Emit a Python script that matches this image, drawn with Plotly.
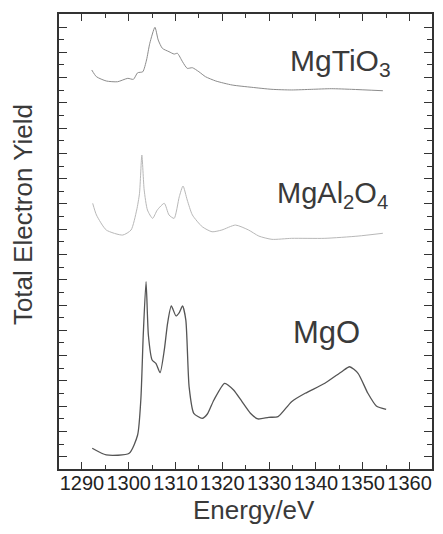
import plotly.graph_objects as go

# ---- data ----
mgo_e = [1292.2, 1295.2, 1300.1, 1301.9, 1302.6, 1303.1, 1303.7, 1304.2, 1305.0, 1305.8,
         1306.7, 1307.6, 1308.3, 1309.1, 1310.1, 1310.8, 1311.5, 1312.2, 1312.9, 1313.9,
         1315.7, 1316.8, 1318.2, 1320.5, 1322.4, 1324.2, 1326.0, 1327.6, 1329.9, 1331.9,
         1334.8, 1337.7, 1341.9, 1345.5, 1347.2, 1349.0, 1351.1, 1352.9, 1355.0]
mgo_y = [1.56, 1.03, 1.16, 2.61, 5.5, 10.5, 14.74, 10.5, 8.54, 8.28,
         7.54, 9.34, 11.45, 12.82, 12.03, 12.3, 12.82, 11.7, 6.43, 4.33,
         3.93, 4.27, 5.38, 6.70, 6.17, 5.25, 4.33, 3.88, 4.01, 4.06,
         5.25, 5.91, 6.70, 7.62, 8.01, 7.49, 5.91, 4.91, 4.64]

mgal_e = [1292.3, 1293.1, 1295.2, 1298.7, 1300.5, 1301.7, 1302.3, 1302.8, 1303.3, 1304.0,
          1305.1, 1306.1, 1307.6, 1308.6, 1309.7, 1310.8, 1311.6, 1312.5, 1313.6, 1315.7,
          1317.8, 1319.9, 1322.8, 1325.6, 1327.8, 1330.6, 1334.8, 1341.9, 1349.0, 1354.3]
mgal_y = [20.94, 20.02, 18.83, 18.43, 18.83, 20.41, 21.73, 24.76, 21.99, 20.41,
          19.75, 20.41, 20.94, 20.02, 19.75, 21.46, 22.31, 21.2, 20.02, 19.09,
          18.69, 18.83, 19.22, 18.83, 18.35, 18.09, 18.17, 18.17, 18.35, 18.57]

mgti_e = [1292.1, 1293.1, 1295.2, 1297.6, 1299.8, 1301.0, 1301.9, 1303.0, 1303.8, 1304.5,
          1305.6, 1306.3, 1307.2, 1308.6, 1309.7, 1310.4, 1311.5, 1312.5, 1313.6, 1315.0,
          1316.4, 1318.6, 1322.1, 1326.3, 1330.6, 1334.8, 1339.1, 1343.3, 1347.6, 1354.3]
mgti_y = [31.49, 30.96, 30.62, 30.56, 30.83, 30.75, 31.27, 31.35, 32.28, 33.60,
          34.87, 33.86, 33.20, 32.94, 32.75, 32.81, 32.14, 31.62, 31.67, 31.35,
          30.96, 30.62, 30.30, 30.12, 29.96, 29.91, 29.96, 30.01, 29.96, 29.85]

x_ticks = [1290, 1300, 1310, 1320, 1330, 1340, 1350, 1360]
labels = ["MgTiO<sub>3</sub>", "MgAl<sub>2</sub>O<sub>4</sub>", "MgO"]

FONT = "Liberation Sans, Arial, sans-serif"
AX = "#333333"

fig = go.Figure()
fig.add_trace(go.Scatter(x=mgo_e, y=mgo_y, mode="lines", line=dict(color="#555555", width=1.3, shape="spline", smoothing=0.6)))
fig.add_trace(go.Scatter(x=mgal_e, y=mgal_y, mode="lines", line=dict(color="#b8b8b8", width=1, shape="spline", smoothing=0.6)))
fig.add_trace(go.Scatter(x=mgti_e, y=mgti_y, mode="lines", line=dict(color="#8c8c8c", width=1, shape="spline", smoothing=0.6)))

fig.update_layout(
    width=443, height=534,
    margin=dict(l=59, r=9, t=14, b=65),
    paper_bgcolor="white", plot_bgcolor="white",
    showlegend=False,
    font=dict(family=FONT, color="#222222"),
)
fig.update_xaxes(
    range=[1285.1, 1364.8], tickmode="array", tickvals=x_ticks,
    ticktext=[str(v) for v in x_ticks], tickangle=0,
    ticks="inside", ticklen=7, tickwidth=1.2, tickcolor=AX,
    ticklabelstandoff=-5,
    minor=dict(dtick=5, tick0=1285, ticks="inside", ticklen=4, tickwidth=1, tickcolor=AX),
    showline=True, linecolor=AX, linewidth=1.5, mirror="allticks",
    showgrid=False, zeroline=False,
    tickfont=dict(size=20, family=FONT, color="#222222"),
)
fig.update_yaxes(
    range=[-0.08, 35.92], tick0=0.89, dtick=2, showticklabels=False,
    ticks="inside", ticklen=8, tickwidth=1.2, tickcolor=AX,
    minor=dict(dtick=1, tick0=0.89, ticks="inside", ticklen=5, tickwidth=1, tickcolor=AX),
    showline=True, linecolor=AX, linewidth=1.5, mirror="allticks",
    showgrid=False, zeroline=False,
)

TXT = "#3a3a3a"
fig.add_annotation(text=labels[0], xref="paper", yref="paper", x=0.895, y=0.8945,
                   xanchor="right", yanchor="middle", showarrow=False,
                   font=dict(size=30, family=FONT, color=TXT))
fig.add_annotation(text=labels[1], xref="paper", yref="paper", x=0.887, y=0.602,
                   xanchor="right", yanchor="middle", showarrow=False,
                   font=dict(size=29, family=FONT, color=TXT))
fig.add_annotation(text=labels[2], xref="paper", yref="paper", x=0.718, y=0.299,
                   xanchor="center", yanchor="middle", showarrow=False,
                   font=dict(size=31, family=FONT, color=TXT))
fig.add_annotation(text="Energy/eV", xref="paper", yref="paper", x=0.523, y=-0.09,
                   xanchor="center", yanchor="middle", showarrow=False,
                   font=dict(size=26, family=FONT, color=TXT))
fig.add_annotation(text="Total Electron Yield", xref="paper", yref="paper", x=-0.0968, y=0.56,
                   xanchor="center", yanchor="middle", showarrow=False, textangle=-90,
                   font=dict(size=26, family=FONT, color=TXT))

fig.write_html("out.html")
